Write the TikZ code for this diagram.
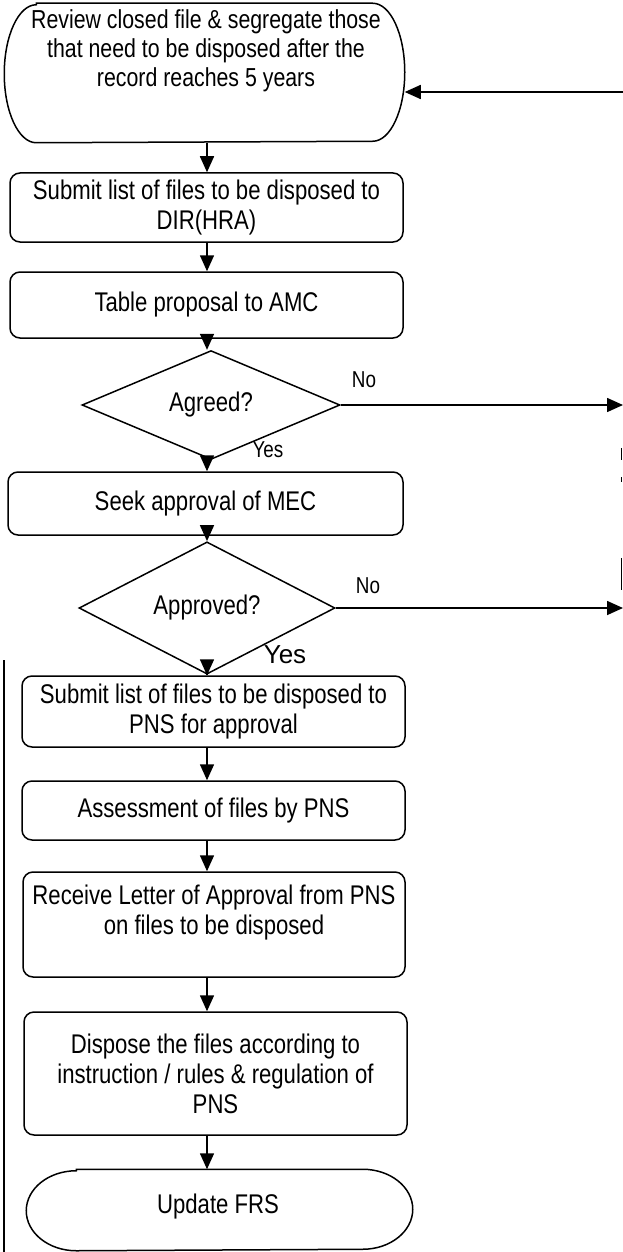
\documentclass[tikz,border=0pt]{standalone}
\usepackage{fontspec}
\setmainfont{Liberation Sans}[FakeStretch=0.82]
\newfontfamily\plainsans{Liberation Sans}
\usetikzlibrary{arrows.meta,shapes.geometric}

\begin{document}
\begin{tikzpicture}[x=1pt,y=-1pt,
  line width=1.5pt,
  txt/.style={font=\fontsize{27}{30}\selectfont, align=center, inner sep=0pt},
  proc/.style={txt, draw, rounded corners=10pt},
  frame/.style={draw=none, inner sep=0pt},
  dec/.style={txt, draw, diamond, inner sep=0pt},
  lbl/.style={font=\fontsize{23}{26}\selectfont, inner sep=0pt},
  arr/.style={line width=1.6pt, -{Triangle[length=16pt,width=14pt]}},
  frag/.style={line width=1.2pt}]

% page
\fill[white] (0,0) rectangle (623,1252);
\useasboundingbox (0,0) rectangle (623,1252);

% reference lines for connectors
\coordinate (spine) at (207,0);
\coordinate (rightedge) at (623,0);
\coordinate (loopin) at (623,92);

% start terminal: outline, then its text set high in the shape
\node[frame, minimum width=399pt, minimum height=138pt] (t1) at (204.5,73) {};
\draw ([xshift=32pt]t1.north west) -- ([xshift=-32pt]t1.north east)
  arc[start angle=-90, end angle=90, x radius=32, y radius=69]
  -- ([xshift=32pt]t1.south west)
  arc[start angle=90, end angle=270, x radius=32, y radius=69] -- cycle;
\node[txt, font=\fontsize{26}{29}\selectfont] (t1txt) at (206,51)
  {Review closed file \& segregate those\\that need to be disposed after the\\record reaches 5 years};

\node[proc, minimum width=393pt, minimum height=69pt] (b2) at (206.5,207.5)
  {Submit list of files to be disposed to\\DIR(HRA)};
\node[proc, minimum width=393pt, minimum height=66pt] (b3) at (206.5,305)
  {Table proposal to AMC};
\node[dec, minimum width=258pt, minimum height=80pt] (d1) at (211,405) {Agreed?};
\node[proc, minimum width=395pt, minimum height=63pt] (b4) at (205.5,503.5)
  {Seek approval of MEC};
\node[dec, minimum width=256pt, minimum height=80pt] (d2) at (207,608) {Approved?};
\node[proc, minimum width=383pt, minimum height=71pt] (b5) at (213.5,711.5)
  {Submit list of files to be disposed to\\PNS for approval};
\node[proc, minimum width=383pt, minimum height=59pt] (b6) at (213.5,810.5)
  {Assessment of files by PNS};
\node[proc, minimum width=382pt, minimum height=105pt] (b7) at (214,924.5)
  {Receive Letter of Approval from PNS\\on files to be disposed\\\mbox{}};
\node[proc, minimum width=383pt, minimum height=123pt] (b8) at (215.5,1073.5)
  {Dispose the files according to\\instruction / rules \& regulation of\\PNS};

% end terminal
\node[frame, minimum width=385pt, minimum height=80pt] (t2) at (219.5,1210) {};
\draw ([xshift=50pt]t2.north west) -- ([xshift=-50pt]t2.north east)
  arc[start angle=-90, end angle=90, x radius=50, y radius=40]
  -- ([xshift=50pt]t2.south west)
  arc[start angle=90, end angle=270, x radius=50, y radius=40] -- cycle;
\node[txt] (t2txt) at (218,1207) {Update FRS};

% branch labels
\node[lbl] (no1) at (364,380) {No};
\node[lbl] (yes1) at (268,450) {Yes};
\node[lbl] (no2) at (368,586) {No};
\node[font=\plainsans\fontsize{26}{30}\selectfont, inner sep=0pt] (yes2) at (285,655) {Yes};

% main flow
\draw[arr] (t1.south -| spine) -- (b2.north -| spine);
\draw[arr] (b2.south -| spine) -- (b3.north -| spine);
\draw[arr] (b3.south -| spine) -- (d1.north -| spine);
\draw[arr] (d1.south -| spine) -- (b4.north -| spine);
\draw[arr] (b4.south -| spine) -- (d2.north -| spine);
\draw[arr] (d2.south -| spine) -- (b5.north -| spine);
\draw[arr] (b5.south -| spine) -- (b6.north -| spine);
\draw[arr] (b6.south -| spine) -- (b7.north -| spine);
\draw[arr] (b7.south -| spine) -- (b8.north -| spine);
\draw[arr] (b8.south -| spine) -- (t2.north -| spine);

% "No" branches leaving to the right, and the loop back into the start
\draw[arr] (d1.east) -- (d1.east -| rightedge);
\draw[arr] (d2.east) -- (d2.east -| rightedge);
\draw[arr] (loopin) -- (loopin -| t1.east);

% return line along the right margin (broken)
\draw[frag] (621.5,448) -- (621.5,460);
\draw[frag] (621.5,477) -- (621.5,482);
\draw[frag] (621.5,558) -- (621.5,590);

% line along the left margin
\draw[line width=1.3pt] (4,660) -- (4,1252);
\end{tikzpicture}
\end{document}
